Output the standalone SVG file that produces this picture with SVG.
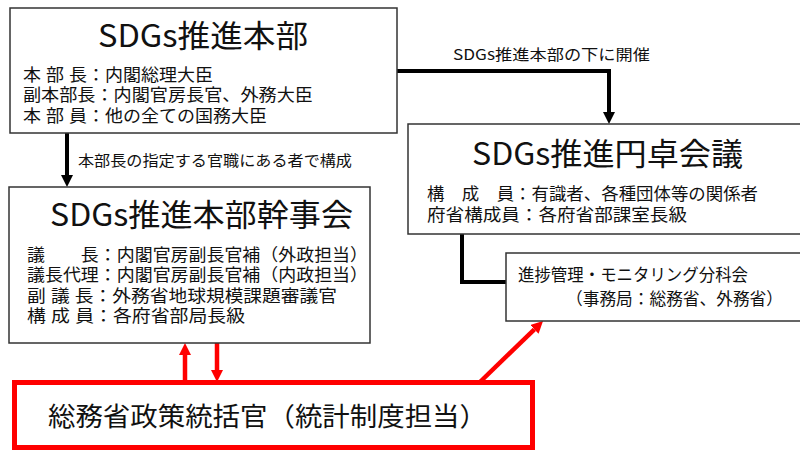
<svg xmlns="http://www.w3.org/2000/svg" width="800" height="450" viewBox="0 0 800 450">
<style>
text{font-family:"Noto Sans CJK JP","Noto Sans",sans-serif;fill:#111}
.box{fill:#fff;stroke:#333;stroke-width:1.5}
.title{font-size:31px}
.body{font-size:17px;font-family:"Liberation Sans","Noto Sans CJK JP",sans-serif}
.lbl{font-size:15px}
.conn{fill:none;stroke:#000;stroke-width:4}
.red{fill:none;stroke:#ff0000;stroke-width:4.5}
</style>
<defs>
<marker id="ah" viewBox="0 0 12 12" markerWidth="12" markerHeight="12" markerUnits="userSpaceOnUse" refX="0" refY="6" orient="auto"><path d="M0,0 L12,6 L0,12 z" fill="#000"/></marker>
<marker id="ahr" viewBox="0 0 12 12" markerWidth="12" markerHeight="12" markerUnits="userSpaceOnUse" refX="0" refY="6" orient="auto"><path d="M0,0 L12,6 L0,12 z" fill="#ff0000"/></marker>
</defs>
<g id="connectors">
<path class="conn" d="M397,71 H609 V112" marker-end="url(#ah)"/>
<path class="conn" d="M67,133 V175" marker-end="url(#ah)"/>
<path class="conn" d="M462,234 V282 H506"/>
<path class="red" d="M185,382 V355" marker-end="url(#ahr)"/>
<path class="red" d="M217,343 V370" marker-end="url(#ahr)"/>
<path class="red" d="M480,382 L534.4,329.4" marker-end="url(#ahr)"/>
<text class="lbl" x="453" y="60" textLength="197" lengthAdjust="spacingAndGlyphs">SDGs推進本部の下に開催</text>
<text class="lbl" x="78" y="166" textLength="274" lengthAdjust="spacingAndGlyphs">本部長の指定する官職にある者で構成</text>
</g>
<g id="honbu">
<rect class="box" x="10" y="8" width="387" height="125"/>
<text class="title" x="98" y="47" textLength="210" lengthAdjust="spacingAndGlyphs">SDGs推進本部</text>
<text class="body" x="23" y="81" textLength="190" lengthAdjust="spacingAndGlyphs">本 部 長：内閣総理大臣</text>
<text class="body" x="23" y="101" textLength="290" lengthAdjust="spacingAndGlyphs">副本部長：内閣官房長官、外務大臣</text>
<text class="body" x="23" y="122" textLength="244" lengthAdjust="spacingAndGlyphs">本 部 員：他の全ての国務大臣</text>
</g>
<g id="entaku">
<rect class="box" x="408" y="124" width="400" height="110"/>
<text class="title" x="472" y="165" textLength="271" lengthAdjust="spacingAndGlyphs">SDGs推進円卓会議</text>
<text class="body" x="427" y="200" textLength="331" lengthAdjust="spacingAndGlyphs">構　成　員：有識者、各種団体等の関係者</text>
<text class="body" x="427" y="221" textLength="260" lengthAdjust="spacingAndGlyphs">府省構成員：各府省部課室長級</text>
</g>
<g id="kanjikai">
<rect class="box" x="9" y="187" width="361" height="156"/>
<text class="title" x="50" y="226" textLength="303" lengthAdjust="spacingAndGlyphs">SDGs推進本部幹事会</text>
<text class="body" x="27" y="261" textLength="341" lengthAdjust="spacingAndGlyphs">議　　長：内閣官房副長官補（外政担当）</text>
<text class="body" x="27" y="281" textLength="341" lengthAdjust="spacingAndGlyphs">議長代理：内閣官房副長官補（内政担当）</text>
<text class="body" x="27" y="302" textLength="310" lengthAdjust="spacingAndGlyphs">副 議 長：外務省地球規模課題審議官</text>
<text class="body" x="27" y="322" textLength="218" lengthAdjust="spacingAndGlyphs">構 成 員：各府省部局長級</text>
</g>
<g id="bunkakai">
<rect class="box" x="506" y="253" width="302" height="68"/>
<text class="body" x="518" y="281" textLength="230" lengthAdjust="spacingAndGlyphs">進捗管理・モニタリング分科会</text>
<text class="body" x="566" y="305" textLength="217" lengthAdjust="spacingAndGlyphs">（事務局：総務省、外務省）</text>
</g>
<g id="soumusho">
<rect x="14.5" y="382.5" width="518" height="65" fill="#fff" stroke="#ff0000" stroke-width="5"/>
<text x="48" y="426" font-size="26" textLength="439" lengthAdjust="spacingAndGlyphs">総務省政策統括官（統計制度担当）</text>
</g>
</svg>
